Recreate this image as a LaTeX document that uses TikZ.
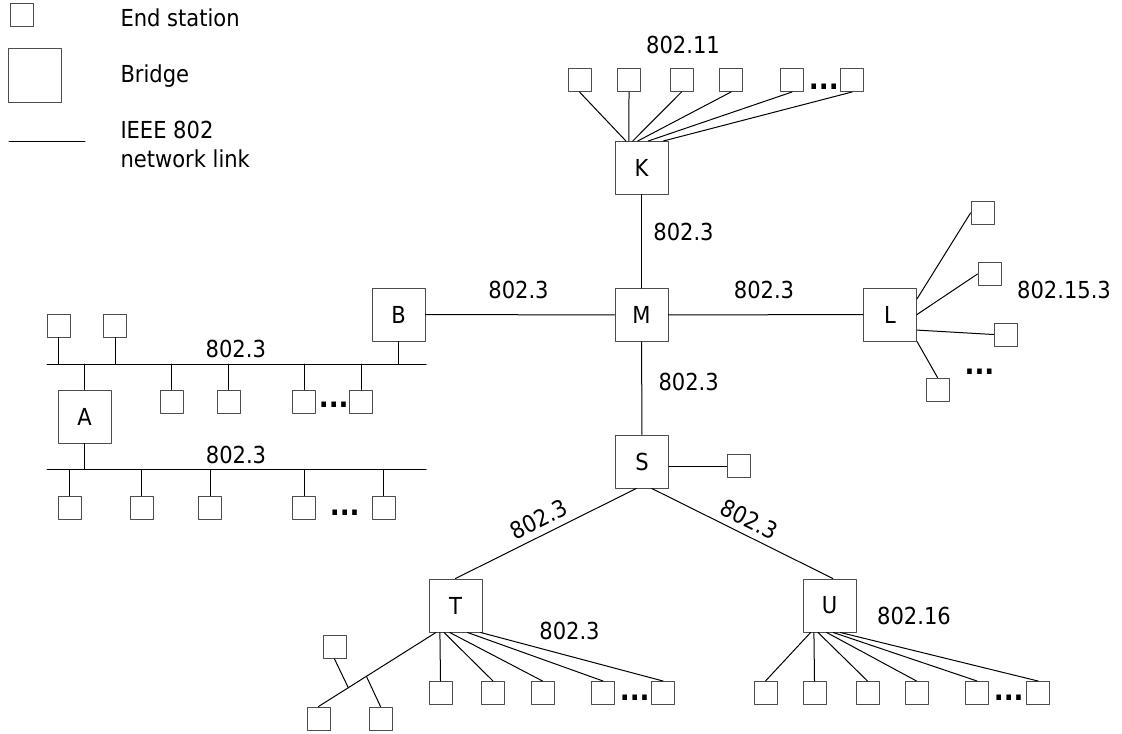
\documentclass[tikz,border=0pt]{standalone}
\usepackage{fontspec}
\IfFontExistsTF{DejaVu Sans Condensed}{\setmainfont{DejaVu Sans Condensed}}{\setmainfont{DejaVu Sans}[FakeStretch=0.88]}
\tikzset{
	station/.style={draw=black!70, minimum size=11.5pt, inner sep=0pt},
	bridge/.style={draw=black!70, minimum size=26.5pt, inner sep=0pt},
	lbl/.style={inner sep=0pt, anchor=base},
	moredots/.style={font=\fontsize{14.5}{17}\selectfont\bfseries, inner sep=0pt, anchor=base}
}
\begin{document}
\begin{tikzpicture}[x=0.5pt, y=-0.5pt, font=\fontsize{11.7}{14.5}\selectfont, line join=round, line cap=round, line width=0.5pt]
				\useasboundingbox (0,0) rectangle (1122,733);
				% legend
				\node[station] (es) at (21.5,15.5) {};
				\node[bridge] (bs) at (34.5,75.5) {};
				\path (9,141) coordinate (nl1) (85,141) coordinate (nl2);
				\draw (nl1)--(nl2);
				\foreach \t/\y [count=\i] in {End station/27, Bridge/83, IEEE 802/138, network link/167}{\node[lbl, anchor=base west] (lg\i) at (120,\y) {\t};}
				% bridges
				\foreach \x/\y/\n in {641.5/168/K, 641.5/315/M, 642/461.5/S, 398.5/314.5/B, 890/314.5/L, 84.5/416.5/A, 455.5/605.5/T, 829.5/605.5/U}{\node[bridge] (\n) at (\x,\y) {\n};}
				\draw (K)--(M); \draw (M)--(S); \draw (B)--(M); \draw (M)--(L);
				\draw (T.north) -- node[sloped, above] (st) {802.3} (S.-102);
				\draw (S.-70) -- node[sloped, above] (su) {802.3} (U.83);
				% the two 802.3 buses
				\path (47,364) coordinate (ub1) (426,364) coordinate (ub2) (47,469.7) coordinate (lb1) (426,469.7) coordinate (lb2);
				\draw (ub1)--(ub2); \draw (lb1)--(lb2);
				\foreach \x [count=\i] in {58.5,115}{\node[station] (ut\i) at (\x,325.5) {}; \draw (ut\i.south)--(ut\i.south |- ub1);}
				\foreach \x [count=\i] in {171.5,228.5,304,361}{\node[station] (ud\i) at (\x,401.5) {}; \draw (ud\i.north)--(ud\i.north |- ub1);}
				\foreach \x [count=\i] in {69.7,141.8,210,304,383.8}{\node[station] (ld\i) at (\x,507.5) {}; \draw (ld\i.north)--(ld\i.north |- lb1);}
				\draw (A.north)--(A.north |- ub1); \draw (A.south)--(A.south |- lb1); \draw (B.south)--(B.south |- ub1);
				% fans
				\foreach \x/\a [count=\i] in {579.5/120, 629/115, 681.5/108, 731/98, 792/76, 852/51}{\node[station] (k\i) at (\x,80) {}; \draw (k\i.south)--(K.\a);}
				\foreach \x/\y/\a/\e [count=\i] in {982.5/213/30/west, 989.5/274/0/west, 1005.5/334.5/-30/west, 937.5/389.5/-45/north}{\node[station] (l\i) at (\x,\y) {}; \draw (L.\a)--(l\i.\e);}
				\node[station] (s1) at (738.5,466) {}; \draw (s1.west)--(s1.west -| S.east);
				\foreach \x/\a [count=\i] in {440.5/-120, 493/-113, 542.5/-102, 603/-66.5, 663/-47}{\node[station] (t\i) at (\x,693) {}; \draw (T.\a)--(t\i.north);}
				\node[station] (tb1) at (318.5,718.5) {}; \node[station] (tb2) at (334.5,647) {}; \node[station] (tb3) at (380.5,718.5) {};
				\draw (T.-126) -- coordinate[pos=0.592] (tj2) coordinate[pos=0.746] (tj1) (tb1.north);
				\draw (tb2.south)--(tj1); \draw (tj2)--(tb3.north);
				\foreach \x/\a [count=\i] in {765.5/-125, 814.5/-120, 867.5/-113.5, 916.5/-96.5, 977/-82.5, 1038/-68.4}{\node[station] (u\i) at (\x,693) {}; \draw (U.\a)--(u\i.north);}
				% dots and link names
				\foreach \x/\y [count=\i] in {823.8/89.3, 979.5/374.3, 333.7/407, 344.7/515, 634.7/700.7, 1008.7/700.7}{\node[moredots] (d\i) at (\x,\y) {...};}
				\foreach \t/\x/\y [count=\i] in {802.11/683/53.5, 802.3/683.5/240.7, 802.3/518.5/298, 802.3/764/298, 802.3/688.7/390.7, 802.3/235.8/357.3, 802.3/236/463.3, 802.15.3/1064/298.3, 802.3/569.5/639.3, 802.16/914/624.3}{\node[lbl] (n\i) at (\x,\y) {\t};}
			\end{tikzpicture}
\end{document}
